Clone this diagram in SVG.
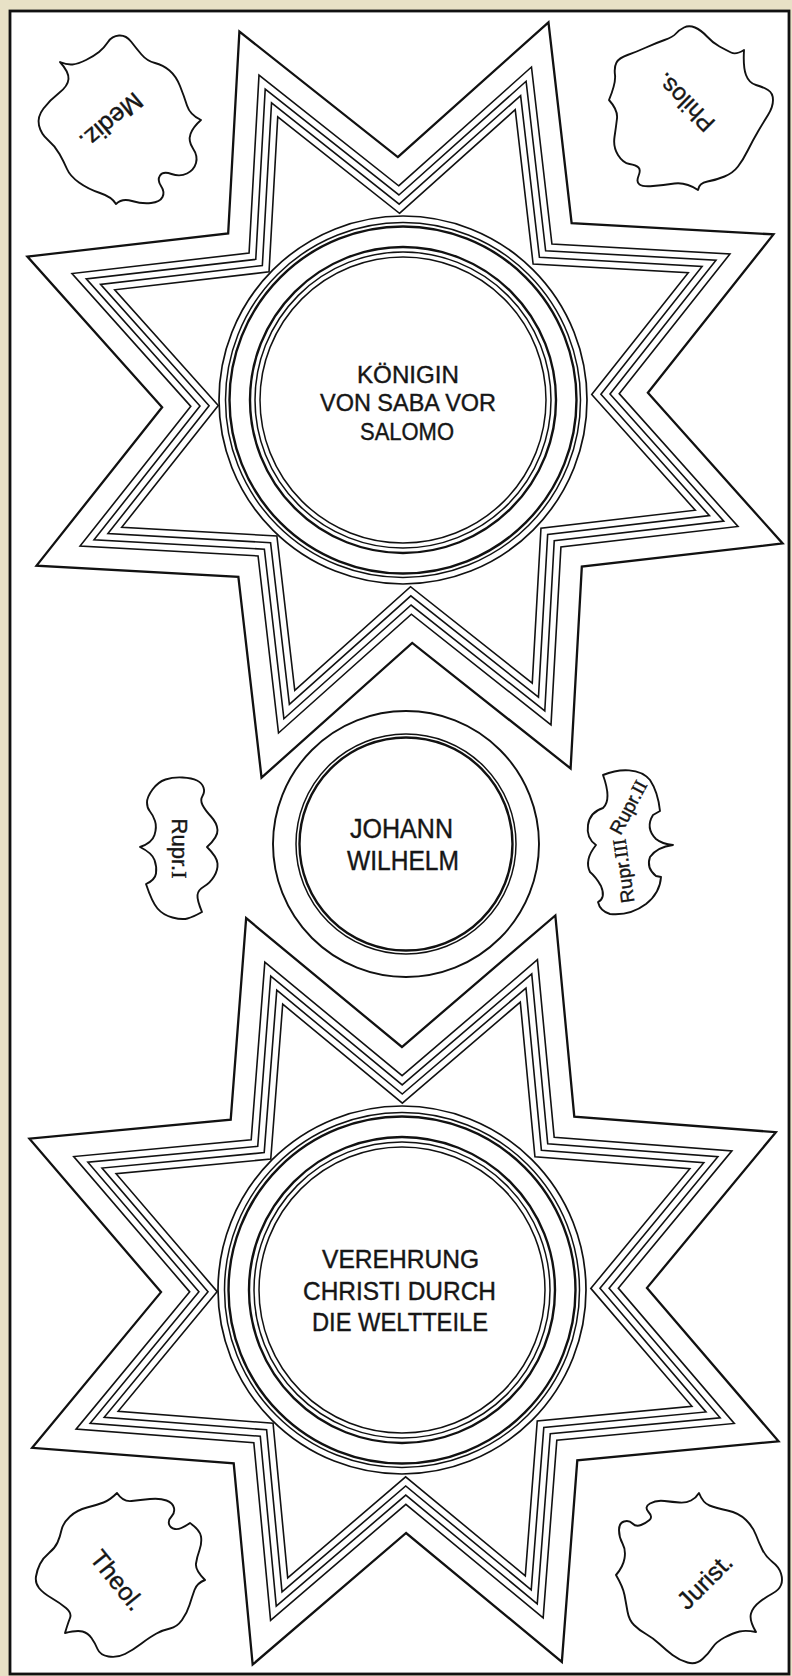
<svg xmlns="http://www.w3.org/2000/svg" xmlns:xlink="http://www.w3.org/1999/xlink" width="792" height="1676" viewBox="0 0 792 1676">
<style>
.bg{fill:#e8e1c6}
.paper{fill:#fff;stroke:#111;stroke-width:2.8}
.so{fill:none;stroke:#111;stroke-width:2.3}
.si{fill:none;stroke:#111;stroke-width:1.6}
.disc{fill:#fff;stroke:#111;stroke-width:1.7}
.r1{fill:none;stroke:#111;stroke-width:1.5}
.r2{fill:none;stroke:#111;stroke-width:2.4}
.cloud{fill:#fff;stroke:#111;stroke-width:1.9;stroke-linejoin:round}
.t{font-family:"Liberation Sans",Arial,sans-serif;fill:#161616;stroke:#161616;stroke-width:0.4;text-anchor:middle}
.rn{font-family:"Liberation Serif","Times New Roman",serif}
</style>
<defs>
<g id="starShape">
<polygon class="so" points="0,-243 154.6,-373.2 171.8,-171.8 373.2,-154.6 243,0 373.2,154.6 171.8,171.8 154.6,373.2 0,243 -154.6,373.2 -171.8,171.8 -373.2,154.6 -243,0 -373.2,-154.6 -171.8,-171.8 -154.6,-373.2"/>
<polygon class="si" points="0,-214.3 136.3,-329.1 151.5,-151.5 329.1,-136.3 214.3,0 329.1,136.3 151.5,151.5 136.3,329.1 0,214.3 -136.3,329.1 -151.5,151.5 -329.1,136.3 -214.3,0 -329.1,-136.3 -151.5,-151.5 -136.3,-329.1"/>
<polygon class="si" points="0,-205.1 130.5,-315 145,-145 315,-130.5 205.1,0 315,130.5 145,145 130.5,315 0,205.1 -130.5,315 -145,145 -315,130.5 -205.1,0 -315,-130.5 -145,-145 -130.5,-315"/>
<polygon class="si" points="0,-196 124.6,-300.9 138.6,-138.6 300.9,-124.6 196,0 300.9,124.6 138.6,138.6 124.6,300.9 0,196 -124.6,300.9 -138.6,138.6 -300.9,124.6 -196,0 -300.9,-124.6 -138.6,-138.6 -124.6,-300.9"/>
<polygon class="si" points="0,-186.8 118.8,-286.9 132.1,-132.1 286.9,-118.8 186.8,0 286.9,118.8 132.1,132.1 118.8,286.9 0,186.8 -118.8,286.9 -132.1,132.1 -286.9,118.8 -186.8,0 -286.9,-118.8 -132.1,-132.1 -118.8,-286.9"/>
</g>
<g id="bigMedal">
<circle class="disc" r="184"/>
<circle class="r1" r="177.5"/>
<circle class="r2" r="173.5"/>
<circle class="r2" r="153"/>
<circle class="r1" r="148"/>
<circle class="r1" r="143"/>
</g>
</defs>

<rect class="bg" x="0" y="0" width="792" height="1676"/>
<rect class="paper" x="10" y="11" width="779" height="1663"/>

<g id="star-top">
<use xlink:href="#starShape" href="#starShape" transform="translate(405,400) rotate(-1.7)"/>
</g>
<g id="star-bottom">
<use xlink:href="#starShape" href="#starShape" transform="translate(404,1290) rotate(-0.5)"/>
</g>

<g id="medallion-top">
<use xlink:href="#bigMedal" href="#bigMedal" transform="translate(403,400)"/>
<text class="t" font-size="24" x="408" y="383" textLength="102" lengthAdjust="spacingAndGlyphs">KÖNIGIN</text>
<text class="t" font-size="24" x="408" y="411" textLength="176" lengthAdjust="spacingAndGlyphs">VON SABA VOR</text>
<text class="t" font-size="24" x="407" y="440" textLength="94" lengthAdjust="spacingAndGlyphs">SALOMO</text>
</g>

<g id="medallion-middle">
<circle class="disc" cx="406" cy="844" r="133" style="stroke-width:1.9"/>
<circle class="r1" cx="406" cy="844" r="110"/>
<circle class="r2" cx="406" cy="844" r="106.5"/>
<text class="t" font-size="27" x="401.5" y="838" textLength="103" lengthAdjust="spacingAndGlyphs">JOHANN</text>
<text class="t" font-size="27" x="403" y="870" textLength="112" lengthAdjust="spacingAndGlyphs">WILHELM</text>
</g>

<g id="medallion-bottom">
<use xlink:href="#bigMedal" href="#bigMedal" transform="translate(402,1290)"/>
<text class="t" font-size="25.5" x="400.5" y="1268" textLength="157" lengthAdjust="spacingAndGlyphs">VEREHRUNG</text>
<text class="t" font-size="25.5" x="399.5" y="1300" textLength="193" lengthAdjust="spacingAndGlyphs">CHRISTI DURCH</text>
<text class="t" font-size="25.5" x="400" y="1331" textLength="176" lengthAdjust="spacingAndGlyphs">DIE WELTTEILE</text>
</g>

<g id="cloud-mediz">
<path class="cloud" d="M60,62 Q69,72 68.5,79 Q68,86 59,93 Q50,100 43.5,108.5 Q37,117 39,125.5 Q41,134 48,140 Q55,146 59.5,154 Q64,162 67,169 Q70,176 79,182.5 Q88,189 100,193 Q112,197 116,204 Q122,198 132,201 Q142,204 151,203 Q160,202 162.5,197 Q165,192 161,186 Q157,180 160,175.5 Q163,171 171.5,174 Q180,177 187,173.5 Q194,170 196,163 Q198,156 193,148.5 Q188,141 190.5,134 Q193,127 201,120 Q190,115 187,105.5 Q184,96 180,86 Q176,76 169.5,70.5 Q163,65 155,63 Q147,61 141.5,54.5 Q136,48 131,41.5 Q126,35 119,35.5 Q112,36 108,42 Q104,48 99,52 Q94,56 86,60 Q78,64 72.5,64.5 Q67,65 60,62 Z"/>
<text class="t" font-size="25" transform="translate(111.5,121.5) rotate(140)" y="9">Mediz.</text>
</g>

<g id="cloud-philos">
<path class="cloud" d="M609,100 Q618,110 617,118.5 Q616,127 614.5,137 Q613,147 618,155 Q623,163 629.5,164 Q636,165 638.5,167.5 Q641,170 638.5,176 Q636,182 639.5,184.5 Q643,187 653,186 Q663,185 674.5,183.5 Q686,182 698,190 Q699,183 707.5,181.5 Q716,180 724.5,176.5 Q733,173 738,166.5 Q743,160 748,150 Q753,140 758,131.5 Q763,123 768,115 Q773,107 773,100 Q773,93 768,90 Q763,87 756,85 Q749,83 746,75 Q743,67 744,50 Q736,55 731,52.5 Q726,50 719.5,46.5 Q713,43 707,36.5 Q701,30 695,27.5 Q689,25 684,27.5 Q679,30 676,33.5 Q673,37 664.5,40 Q656,43 646,47.5 Q636,52 627.5,55 Q619,58 616.5,62.5 Q614,67 615,75 Q616,83 609,100 Z"/>
<text class="t" font-size="24" transform="translate(685,102.5) rotate(225)" y="8.5">Philos.</text>
</g>

<g id="cloud-rupr1">
<path class="cloud" d="M140,847 Q152,843 154.5,835 Q157,827 155,821 Q153,815 150,811.5 Q147,808 147,802.5 Q147,797 152.5,789.5 Q158,782 165.5,779.5 Q173,777 182.5,777.5 Q192,778 197,780.5 Q202,783 203.5,787.5 Q205,792 202.5,796 Q200,800 202.5,805 Q205,810 211,816.5 Q217,823 217.5,830 Q218,837 207,847 Q217,857 217.5,863.5 Q218,870 214,876.5 Q210,883 204,886.5 Q198,890 197.5,895 Q197,900 202,912 Q193,917 187.5,918.5 Q182,920 172.5,917.5 Q163,915 157.5,908.5 Q152,902 146,884 Q155,880 156,873.5 Q157,867 154.5,860 Q152,853 140,847 Z"/>
<text class="t" font-size="22" transform="translate(180,848.5) rotate(90)" y="8">Rupr.<tspan class="rn">I</tspan></text>
</g>

<g id="cloud-rupr23">
<path class="cloud" d="M603,775 C620,768 640,768 650,780 Q658,792 660,811 L653,815 Q645,828 656,839 Q662,844 673,845 Q657,847 650,857 Q646,868 656,876 L661,877 Q660,893 646,904 Q630,916 610,914 Q600,911 598,902 Q606,898 601,886 Q596,877 590,872 Q584,860 596,845 Q586,838 588,825 Q590,812 603,808 Q612,800 603,775 Z"/>
<text class="t" font-size="19" transform="translate(628,807) rotate(-62)" y="7">Rupr.<tspan class="rn">II</tspan></text>
<text class="t" font-size="19" transform="translate(623,871) rotate(-98)" y="7">Rupr.<tspan class="rn">III</tspan></text>
</g>

<g id="cloud-theol">
<path class="cloud" d="M117,1493 Q123,1502 131.5,1501 Q140,1500 150,1499 Q160,1498 166.5,1500.5 Q173,1503 174,1508 Q175,1513 171.5,1516.5 Q168,1520 169,1524 Q170,1528 175,1529 Q180,1530 190,1523 Q200,1530 201,1536.5 Q202,1543 199.5,1550 Q197,1557 196,1563.5 Q195,1570 205,1580 Q197,1583 194.5,1590 Q192,1597 189.5,1605 Q187,1613 182,1620 Q177,1627 170,1628.5 Q163,1630 156.5,1633.5 Q150,1637 141.5,1643.5 Q133,1650 125,1654 Q117,1658 108.5,1656.5 Q100,1655 97.5,1649 Q95,1643 91.5,1638 Q88,1633 82.5,1631.5 Q77,1630 65,1633 Q68,1623 70,1618 Q72,1613 66,1608 Q60,1603 51.5,1598 Q43,1593 39,1588 Q35,1583 36,1576.5 Q37,1570 40,1564 Q43,1558 49,1553 Q55,1548 57.5,1542.5 Q60,1537 61.5,1530 Q63,1523 70,1516.5 Q77,1510 87,1507.5 Q97,1505 103.5,1502.5 Q110,1500 117,1493 Z"/>
<text class="t" font-size="25" transform="translate(117.5,1580) rotate(51)" y="9">Theol.</text>
</g>

<g id="cloud-jurist">
<path class="cloud" d="M699,1493 Q703,1503 709.5,1505.5 Q716,1508 727.5,1510.5 Q739,1513 746,1520 Q753,1527 756,1535 Q759,1543 762.5,1550 Q766,1557 772.5,1562 Q779,1567 781,1573.5 Q783,1580 781,1585 Q779,1590 772.5,1593.5 Q766,1597 759.5,1602 Q753,1607 751,1613.5 Q749,1620 756,1632 Q746,1630 739.5,1631.5 Q733,1633 724.5,1637.5 Q716,1642 712.5,1647.5 Q709,1653 702.5,1659 Q696,1665 687.5,1662.5 Q679,1660 672.5,1655 Q666,1650 659.5,1644 Q653,1638 646,1634 Q639,1630 634,1625 Q629,1620 627.5,1611.5 Q626,1603 624.5,1595 Q623,1587 616,1575 Q623,1567 624.5,1558.5 Q626,1550 622.5,1543.5 Q619,1537 619,1530 Q619,1523 624,1521.5 Q629,1520 632.5,1523.5 Q636,1527 641,1525 Q646,1523 649.5,1520 Q653,1517 648.5,1512 Q644,1507 650,1503.5 Q656,1500 664.5,1501 Q673,1502 679.5,1502.5 Q686,1503 691,1500.5 Q696,1498 699,1493 Z"/>
<text class="t" font-size="25" transform="translate(704.5,1581) rotate(-45)" y="9">Jurist.</text>
</g>
</svg>
